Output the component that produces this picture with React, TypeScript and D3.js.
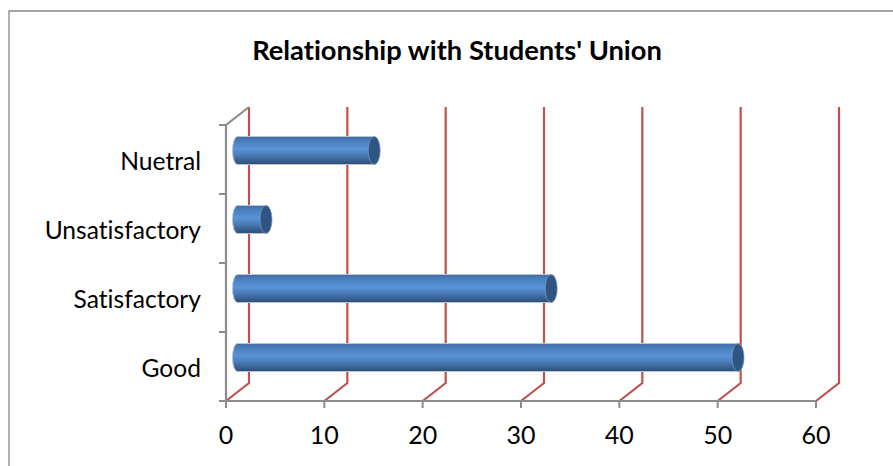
import React from 'react';
import * as d3 from 'd3';

const categories = ['Good', 'Satisfactory', 'Unsatisfactory', 'Nuetral'];
const values = [51, 32, 3, 14];
const xTicks = [0, 10, 20, 30, 40, 50, 60];
const title = "Relationship with Students' Union";

const width = 893, height = 466;
const depthX = 23, depthY = 18;
const barH = 28, capR = 6;
const font = 'Lato, "Open Sans", sans-serif';

const x = d3.scaleLinear().domain([0, 60]).range([226, 816]);
const y = d3.scaleBand().domain(categories).range([401, 125]);
const line = d3.line();

export default function App() {
  const barOffset = depthX / 2;
  return (
    <svg width={width} height={height} style={{ position: 'absolute', left: 0, top: 0, background: '#fff', fontVariantLigatures: 'none' }}>
      <defs>
        <linearGradient id="cyl" x1="0" x2="0" y1="0" y2="1">
          <stop offset="0" stopColor="#3f6ca6" />
          <stop offset="0.15" stopColor="#4a7ebb" />
          <stop offset="0.45" stopColor="#5a93d8" />
          <stop offset="0.7" stopColor="#4677b0" />
          <stop offset="1" stopColor="#2c4d75" />
        </linearGradient>
      </defs>

      {/* chart frame */}
      <path d={line([[9, 466], [9, 11], [893, 11]]) as string} fill="none" stroke="#868686" strokeWidth={1.3} />

      <text x={457} y={60} textAnchor="middle" fontFamily={font} fontWeight={700} fontSize={27.3} fill="#000">{title}</text>

      {/* red gridlines on wall and floor */}
      {xTicks.map(t => (
        <path key={t} fill="none" stroke="#c0504d" strokeWidth={2.2}
          d={line([[x(t), 401], [x(t) + depthX, 401 - depthY], [x(t) + depthX, 125 - depthY]]) as string} />
      ))}

      {/* axes */}
      <path fill="none" stroke="#8c8c8c" strokeWidth={2.2}
        d={line([[x(0) + depthX, 125 - depthY], [x(0), 125], [x(0), 401], [x(60), 401]]) as string} />
      {y.domain().map(c => (
        <line key={c} x1={219} x2={x(0)} y1={(y(c) as number) + y.bandwidth()} y2={(y(c) as number) + y.bandwidth()} stroke="#8c8c8c" strokeWidth={2} />
      ))}
      <line x1={219} x2={x(0)} y1={125} y2={125} stroke="#8c8c8c" strokeWidth={2} />
      {xTicks.map(t => (
        <line key={t} x1={x(t)} x2={x(t)} y1={401} y2={408} stroke="#8c8c8c" strokeWidth={2} />
      ))}

      {/* cylinders */}
      {categories.map((c, i) => {
        const cy = (y(c) as number) + y.bandwidth() / 2 - depthY / 2;
        const x0 = x(0) + barOffset;
        const x1 = x(values[i]) + barOffset - 1;
        const top = cy - barH / 2;
        return (
          <g key={c}>
            <path
              d={`M${x0},${top}L${x1},${top}A${capR},${barH / 2} 0 0 1 ${x1},${top + barH}L${x0},${top + barH}A${capR - 1},${barH / 2} 0 0 1 ${x0},${top}Z`}
              fill="url(#cyl)" stroke="#b9c4d2" strokeWidth={1} />
            <ellipse cx={x1} cy={cy} rx={capR} ry={barH / 2} fill="#2f5583" stroke="#9fb0c6" strokeWidth={0.5} />
          </g>
        );
      })}

      {/* labels */}
      {categories.map(c => (
        <text key={c} x={201} y={(y(c) as number) + y.bandwidth() / 2 + 4} textAnchor="end" dominantBaseline="middle"
          fontFamily={font} fontSize={24.6} fill="#000">{c}</text>
      ))}
      {xTicks.map(t => (
        <text key={t} x={x(t)} y={444} textAnchor="middle" fontFamily={font} fontSize={25} fill="#000">{t}</text>
      ))}
    </svg>
  );
}
